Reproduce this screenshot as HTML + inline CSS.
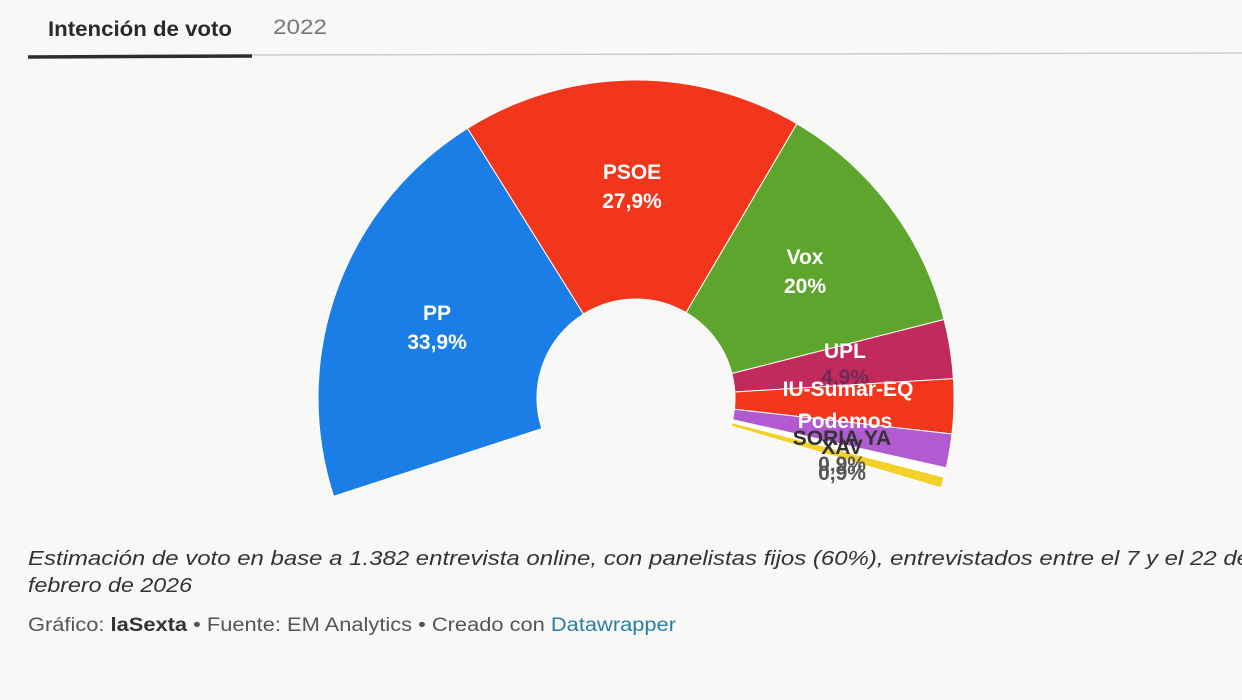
<!DOCTYPE html>
<html><head><meta charset="utf-8"><style>
html,body{margin:0;padding:0;background:#f8f8f7;}
svg{display:block}
text{font-family:"Liberation Sans",sans-serif}
</style></head><body>
<svg id="s" width="1242" height="700" viewBox="0 0 1242 700">
<rect width="1242" height="700" fill="#f8f8f7"/>
<text x="48" y="36" font-size="21" font-weight="bold" fill="#2a2a2a" textLength="184" lengthAdjust="spacingAndGlyphs">Intención de voto</text>
<text x="273" y="34" font-size="21" fill="#777" textLength="54" lengthAdjust="spacingAndGlyphs">2022</text>
<line x1="252" y1="55" x2="1242" y2="53" stroke="#ccc" stroke-width="1.5"/>
<line x1="28" y1="57" x2="252" y2="56" stroke="#2d2d2d" stroke-width="3.5"/>
<g id="pie"></g>
<g font-weight="bold" font-size="21" fill="#fff" text-anchor="middle">
<text x="437" y="320">PP</text><text x="437" y="349">33,9%</text>
<text x="632" y="179">PSOE</text><text x="632" y="208">27,9%</text>
<text x="805" y="264">Vox</text><text x="805" y="293">20%</text>
<text x="845" y="384" fill="#3a2a50" opacity="0.6">4,9%</text>
<text x="845" y="358">UPL</text>
<text x="848" y="396">IU-Sumar-EQ</text>
<text x="845" y="428">Podemos</text>
<text x="842" y="445" fill="#333">SORIA YA</text>
<text x="842" y="454" fill="#333">XAV</text>
<text x="842" y="471" fill="#555">0,9%</text>
<text x="842" y="480" fill="#555">0,9%</text>
</g>
<text x="28" y="565" font-size="20" font-style="italic" fill="#333" textLength="1222" lengthAdjust="spacingAndGlyphs">Estimación de voto en base a 1.382 entrevista online, con panelistas fijos (60%), entrevistados entre el 7 y el 22 de</text>
<text x="28" y="592" font-size="20" font-style="italic" fill="#333" textLength="164" lengthAdjust="spacingAndGlyphs">febrero de 2026</text>
<text x="28" y="631" font-size="19" fill="#555" textLength="648" lengthAdjust="spacingAndGlyphs">Gráfico: <tspan font-weight="bold" fill="#333">laSexta</tspan> • Fuente: EM Analytics • Creado con <tspan fill="#2b7fa6">Datawrapper</tspan></text>
</svg>
<script>
(function(){
var cx=636,cy=398,R=318,r=99;
var segs=[[198,122,"#1a7ee6"],[122,59.6,"#f2361c"],[59.6,14.3,"#5da52c"],[14.3,3.5,"#c22a5b"],[3.5,-6.5,"#f2361c"],[-6.5,-12.7,"#b25ad0"],[-12.7,-14.4,"#ffffff"],[-14.4,-16.4,"#f2d22a"]];
function p(a,rad){a=a*Math.PI/180;return (cx+rad*Math.cos(a)).toFixed(1)+","+(cy-rad*Math.sin(a)).toFixed(1);}
var g=document.getElementById("pie"),h="";
segs.forEach(function(s){
var a0=s[0],a1=s[1],lg=(a0-a1)>180?1:0;
h+='<path d="M'+p(a0,R)+' A'+R+','+R+' 0 '+lg+' 1 '+p(a1,R)+' L'+p(a1,r)+' A'+r+','+r+' 0 '+lg+' 0 '+p(a0,r)+' Z" fill="'+s[2]+'" stroke="#fff" stroke-width="1"/>';
});
g.innerHTML=h;
})();
</script>
</body></html>
